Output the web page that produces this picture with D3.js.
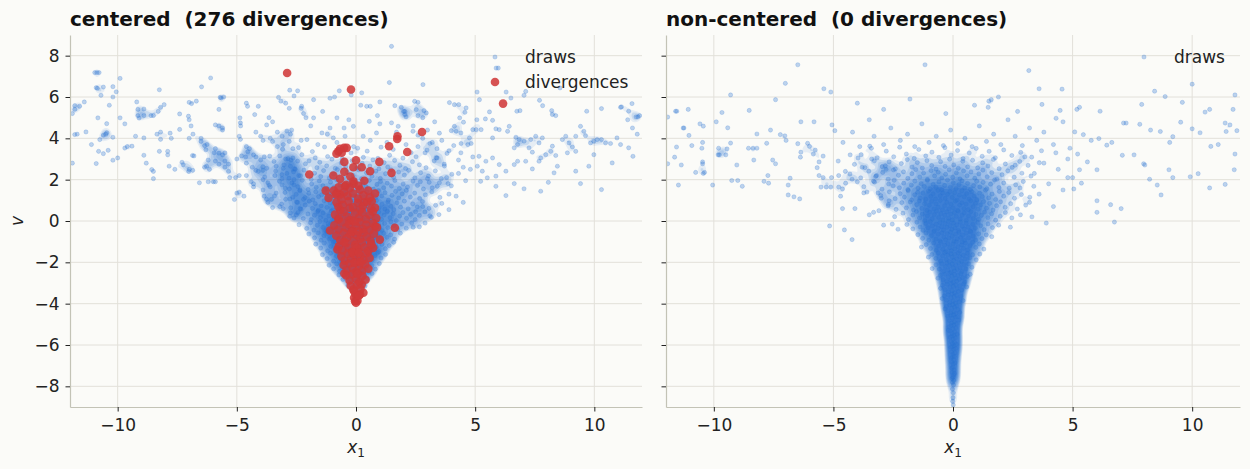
<!DOCTYPE html>
<html>
<head>
<meta charset="utf-8">
<script src="https://cdn.jsdelivr.net/npm/d3@7"></script>
<style>
  body { margin: 0; background: #fbfbf8; }
  svg text { font-family: "DejaVu Sans", sans-serif; }
</style>
</head>
<body>
<svg id="chart" width="1250" height="469"></svg>
<script>
// tick values and titles
var xTicks = [-10, -5, 0, 5, 10];
var vTicks = [-8, -6, -4, -2, 0, 2, 4, 6, 8];
var panelTitles = ["centered  (276 divergences)", "non-centered  (0 divergences)"];
var legendLabels = ["draws", "divergences"];

// centered model: draws, as (x1, v) pairs
var centeredDraws = [
  -11.9,2.8, -10.96,7.18, -10.87,7.18, -10.78,7.18, -10.9,6.45, -10.85,6.42, -10.7,6.08, -10.6,6.48, -10.2,6.5, -10.06,6.25,
  -9.9,6.9, -10.2,6.0, -10.35,5.6, -11.8,5.58, -11.9,5.2, -11.8,5.4, -11.6,5.55, -11.4,5.76, -11.8,4.18, -11.7,4.2,
  -11.33,4.31, -11.1,3.7, -10.9,2.78, -10.8,3.37, -10.75,3.94, -10.83,4.99, -10.46,4.71, -10.46,4.27, -10.5,4.2, -10.6,4.15,
  -10.2,4.05, -10.6,3.26, -10.4,3.42, -10.2,2.94, -10.0,3.05, -9.9,4.99, -9.7,4.7, -9.7,3.53, -9.6,3.6, -9.4,3.62,
  -9.25,4.1, -9.2,5.76, -9.15,5.4, -9.15,5.1, -9.1,4.98, -8.9,5.42, -8.9,5.1, -8.6,5.1, -8.5,5.1, -8.9,3.18,
  -8.8,2.8, -8.9,4.02, -8.57,2.49, -8.5,2.4, -8.5,2.05, -8.25,3.37, -8.2,5.5, -8.3,5.3, -8.25,6.35, -8.35,4.2,
  -8.2,4.3, -8.05,5.63, -8.2,3.95, -7.9,3.37, -7.9,3.2, -7.75,4.0, -7.8,4.25, -7.84,2.65, -7.4,5.18, -7.4,4.43,
  -7.3,2.84, -7.25,2.72, -7.6,2.5, -7.03,5.07, -7.0,4.9, -7.0,5.74, -6.9,5.68, -6.7,5.8, -6.92,4.6, -6.84,4.2,
  -7.0,4.0, -6.86,3.17, -6.8,3.15, -7.0,2.5, -7.02,2.4, -6.85,2.45, -6.57,1.85, -6.48,6.49, -6.5,4.0, -6.5,3.85,
  -6.35,3.65, -6.25,3.7, -6.3,3.45, -6.27,2.65, -6.15,2.5, -6.35,2.6, -6.2,2.95, -6.1,6.92, -6.2,1.9, -5.98,1.9,
  -5.75,5.4, -5.65,5.95, -5.55,6.0, -5.7,5.98, -5.9,4.65, -5.75,4.6, -5.6,4.5, -5.6,4.4, -5.95,3.3, -5.9,3.5,
  -5.75,3.28, -5.6,3.2, -5.5,3.3, -5.9,2.9, -5.75,2.75, -5.5,2.9, -5.35,2.75, -5.9,1.9, -5.5,2.6, -5.35,2.4, -5.3,2.1,
  -5.1,1.04, -5.0,1.35, -4.9,1.4, -4.7,1.2, -4.87,4.99, -4.85,4.75, -4.84,4.6, -4.6,5.7, -4.55,5.55, -4.9,4.1,
  -4.85,3.95, -4.6,3.6, -4.47,3.5, -4.54,3.35, -5.0,3.0, -4.8,3.15, -4.63,3.1, -4.6,2.8, -5.05,2.1, -4.9,2.2,
  -4.6,2.2, -4.3,1.8, -4.3,1.65, -4.25,5.15, -4.1,5.55, -4.2,4.3, -4.0,4.1, -3.9,3.9, -4.3,3.2, -4.2,3.1,
  -4.0,2.95, -3.85,3.1, -4.35,2.6, -4.2,2.45, -3.9,2.45, -3.75,2.55, -3.9,2.0, -3.7,1.85, -3.6,1.65, -3.85,1.2,
  -3.55,1.05, -3.35,1.35, -3.75,1.05, -3.5,0.65, -3.2,0.7, -3.05,0.6, -3.75,4.65, -3.5,4.8, -3.65,5.0, -3.25,5.98,
  -3.15,5.8, -2.78,6.33, -2.95,5.7, -2.8,5.45, -3.3,4.3, -3.1,4.1, -2.9,4.35, -2.75,4.2, -3.5,3.85, -3.3,3.6,
  -3.05,3.7, -2.8,3.85, -2.65,3.5, -3.2,3.15, -2.95,3.0, -2.65,3.05, -2.45,2.9, -3.35,2.65, -3.05,2.55, -2.75,2.65,
  -2.55,2.5, -3.4,2.2, -3.1,2.05, -2.9,2.3, -2.6,2.0, -2.4,2.2, -3.1,1.75, -2.8,1.55, -2.6,1.75, -2.35,1.5,
  -2.95,1.05, -2.65,1.15, -2.45,0.9, -2.2,1.05, -2.75,0.4, -2.5,0.3, -2.35,0.6, -2.6,0.15, -2.3,5.45, -2.2,5.2,
  -2.45,6.3, -2.6,6.05, -3.9,1.5, -3.7,0.9, -4.1,2.4, -4.4,1.9,
  -1.78,5.87, -1.09,5.94, -0.7,6.3, 0.24,6.2, 0.45,5.55, 0.6,5.55, 1.0,5.76, 1.63,5.58, 2.05,5.3, 2.05,5.15,
  1.49,4.75, 1.77,4.58, 0.56,4.82, 0.86,4.26, -0.46,4.1, -0.11,4.58, -1.09,4.5, -0.8,4.99, -0.95,4.02, -1.43,4.26,
  -1.78,4.99, -2.06,3.94, 2.53,5.39, 2.39,4.34, -2.28,5.55, 1.49,8.45, 2.81,6.6, -2.7,4.4, -2.3,3.9, -1.9,4.6,
  -1.6,3.7, -1.2,4.2, -0.8,3.8, -0.5,4.5, -0.1,3.6, 0.3,4.1, 0.6,3.9, 1.0,4.7, 1.3,3.8, 1.7,4.3,
  2.1,3.7, 2.4,4.6, 2.8,4.0, 3.2,3.8, -3.6,4.0, -0.3,4.9, 0.9,5.1, -1.4,5.3, 1.9,5.5, -2.1,5.0,
  0.2,5.6, 2.6,5.1, -0.9,6.0, 1.4,6.7, -0.2,6.1,
  5.88,7.4, 5.97,7.4, 6.3,6.24, 6.5,5.95, 5.08,6.24, 5.18,5.87, 7.12,6.27, 7.05,6.08, 7.7,5.84, 7.83,5.58,
  8.56,6.44, 2.46,5.79, 2.6,5.74, 3.92,5.73, 4.13,5.63, 4.31,5.63, 4.62,5.47, 4.57,5.26, 2.0,5.3, 2.1,5.04,
  2.85,5.34, 2.95,5.23, 5.6,5.28, 5.43,4.94, 6.75,5.31, 6.88,5.34, 8.21,5.34, 8.24,5.15, 8.38,5.1, 9.68,5.31,
  10.3,5.44, 11.14,5.52, 11.58,5.68, 11.44,5.31, 11.75,5.04, 11.83,5.04, 4.35,4.99, 4.51,4.78, 4.13,4.58, 4.0,4.37,
  4.2,4.34, 4.4,4.26, 5.07,4.9, 5.04,4.42, 4.9,4.42, 5.25,4.42, 4.76,4.02, 4.83,3.75, 4.69,3.7, 4.41,3.75,
  5.73,4.87, 5.87,4.46, 6.01,4.42, 5.73,4.02, 6.43,4.58, 6.36,4.34, 6.71,4.05, 6.85,3.94, 6.78,3.7, 6.64,3.54,
  7.05,3.86, 7.33,3.94, 7.26,3.54, 7.4,3.33, 7.54,4.1, 7.68,3.78, 7.82,4.02, 7.96,3.21, 8.17,3.37, 8.24,3.62,
  8.38,3.17, 8.66,3.94, 8.8,4.1, 8.94,3.78, 9.08,3.58, 9.22,4.1, 9.42,4.58, 9.56,4.34, 9.63,4.13, 9.84,3.78,
  9.98,3.86, 10.12,3.94, 10.3,3.94, 10.47,3.78, 10.68,3.75, 10.95,4.02, 11.1,3.7, 11.1,5.5, 11.4,4.9, 11.6,4.5,
  11.8,4.2, 11.9,5.1, 9.77,2.65, 9.22,2.41, 8.45,2.65, 7.75,1.44, 7.05,1.56, 6.29,1.23, 5.87,1.68, 6.64,1.81,
  8.31,2.33, 7.4,2.52, 7.75,3.05, 6.78,2.89, 6.01,2.73, 5.73,3.05, 5.45,2.89, 5.16,3.13, 5.09,2.65, 5.3,2.41,
  5.51,2.09, 5.23,1.92, 5.87,2.17, 6.29,2.41, 6.64,2.73, 7.12,2.89, 7.68,2.89, 8.87,3.3, 9.22,3.37, 9.98,3.21,
  10.75,2.81, 11.44,3.54, 11.62,3.13, 10.3,1.52, 9.42,1.81, 8.07,1.87,
  2.6,3.6, 2.9,3.3, 3.1,3.75, 3.4,3.5, 3.6,3.9, 3.9,3.4, 4.1,3.65, 4.4,3.3, 2.7,1.9, 3.0,2.05,
  3.2,1.6, 3.5,1.85, 3.8,2.1, 4.0,1.7, 4.3,2.3, 4.6,1.95, 4.8,2.5, 2.5,0.45, 2.8,0.7, 3.1,0.25,
  3.6,0.85, 3.9,0.55, 4.2,1.2, 4.5,0.9, 2.4,-0.3, 2.9,-0.1, 4.3,2.95, 4.5,2.6, 3.7,2.75, 3.4,3.05,
  4.9,3.1, 2.6,4.15, 3.0,4.4, 3.5,4.25, 2.8,5.0, 3.3,4.8,
  -3.62,3.14, -3.08,3.47, -2.86,3.02, -2.41,3.55, -2.27,3.21, -1.83,3.36, -1.71,3.05, -1.32,3.58, -1.19,3.12, -0.74,3.44,
  -0.58,3.01, -0.21,3.29, 0.07,3.52, 0.31,3.08, 0.47,3.38, 0.92,3.03, 1.05,3.57, 1.41,3.18, 1.56,3.46, 1.97,3.04,
  2.31,3.31, 2.52,3.11, 2.98,3.43, 3.37,3.06, 3.82,3.27,
  -3.91,2.62, -3.44,2.88, -3.02,2.71, -2.73,2.95, -2.58,2.53, -2.12,2.77, -1.97,2.91, -1.64,2.58, -1.52,2.84, -1.23,2.67,
  -1.01,2.99, -0.87,2.55, -0.62,2.81, -0.43,2.63, -0.16,2.92, 0.04,2.57, 0.26,2.79, 0.58,2.66, 0.71,2.96, 0.96,2.52,
  1.18,2.83, 1.33,2.61, 1.62,2.93, 1.84,2.69, 2.08,2.54, 2.37,2.87, 2.66,2.72, 2.94,2.58, 3.28,2.91, 3.71,2.66,
  -3.83,2.13, -3.37,2.42, -3.11,2.24, -2.81,2.07, -2.62,2.38, -2.33,2.19, -2.18,2.46, -1.88,2.02, -1.74,2.31, -1.48,2.15,
  -1.36,2.44, -1.12,2.08, -0.94,2.27, -0.78,2.49, -0.51,2.11, -0.37,2.36, -0.12,2.21, 0.11,2.47, 0.23,2.04, 0.44,2.33,
  0.67,2.16, 0.83,2.41, 1.02,2.06, 1.24,2.29, 1.47,2.48, 1.58,2.12, 1.79,2.37, 2.03,2.22, 2.21,2.45, 2.47,2.09,
  2.71,2.34, 3.04,2.18, 3.33,2.43, 3.58,2.05, 4.02,2.26,
  -3.64,1.73, -3.21,1.92, -2.97,1.58, -2.69,1.84, -2.44,1.66, -2.26,1.97, -2.01,1.52, -1.86,1.79, -1.67,1.63, -1.54,1.94,
  -1.39,1.71, -1.21,1.56, -1.07,1.88, -0.93,1.62, -0.81,1.99, -0.66,1.74, -0.49,1.53, -0.33,1.86, -0.19,1.68, -0.03,1.95,
  0.14,1.59, 0.29,1.81, 0.42,1.66, 0.56,1.97, 0.73,1.54, 0.88,1.77, 1.03,1.91, 1.16,1.61, 1.31,1.83, 1.49,1.69,
  1.63,1.96, 1.82,1.57, 1.98,1.79, 2.16,1.64, 2.39,1.93, 2.58,1.72, 2.83,1.55, 3.07,1.87, 3.41,1.68, 3.86,1.81,
  -3.42,1.21, -2.98,1.38, -2.77,1.07, -2.51,1.29, -2.36,1.46, -2.14,1.13, -1.98,1.34, -1.81,1.02, -1.69,1.41, -1.57,1.18,
  -1.44,1.27, -1.29,1.49, -1.17,1.06, -1.04,1.32, -0.91,1.19, -0.79,1.44, -0.68,1.03, -0.54,1.26, -0.42,1.39, -0.31,1.12,
  -0.18,1.47, -0.07,1.23, 0.06,1.08, 0.18,1.36, 0.32,1.17, 0.45,1.42, 0.57,1.04, 0.69,1.28, 0.82,1.13, 0.94,1.46,
  1.08,1.21, 1.22,1.37, 1.36,1.01, 1.51,1.24, 1.66,1.43, 1.79,1.11, 1.94,1.31, 2.11,1.48, 2.28,1.16, 2.46,1.35,
  2.67,1.09, 2.91,1.27, 3.18,1.41, 3.52,1.14, 3.9,1.3,
  -3.12,0.82, -2.74,0.64, -2.49,0.91, -2.31,0.57, -2.13,0.78, -1.96,0.96, -1.83,0.61, -1.71,0.84, -1.58,0.52, -1.46,0.73,
  -1.34,0.98, -1.22,0.66, -1.09,0.87, -0.98,0.54, -0.86,0.79, -0.74,0.93, -0.63,0.62, -0.52,0.85, -0.41,0.51, -0.29,0.71,
  -0.17,0.97, -0.06,0.63, 0.05,0.82, 0.16,0.56, 0.27,0.94, 0.38,0.69, 0.51,0.86, 0.62,0.53, 0.74,0.77, 0.86,0.99,
  0.97,0.64, 1.09,0.81, 1.21,0.58, 1.34,0.92, 1.47,0.71, 1.59,0.55, 1.72,0.88, 1.87,0.67, 2.03,0.96, 2.19,0.59,
  2.38,0.83, 2.57,0.68, 2.79,0.94, 3.06,0.61, 3.34,0.76,
  -2.78,0.23, -2.44,0.41, -2.21,0.12, -2.02,0.34, -1.88,0.07, -1.74,0.28, -1.61,0.46, -1.49,0.17, -1.38,0.39, -1.26,0.03,
  -1.14,0.24, -1.03,0.48, -0.92,0.14, -0.81,0.36, -0.71,0.09, -0.6,0.27, -0.49,0.44, -0.38,0.18, -0.27,0.33, -0.16,0.06,
  -0.05,0.42, 0.06,0.21, 0.17,0.37, 0.28,0.11, 0.39,0.46, 0.5,0.26, 0.61,0.04, 0.72,0.31, 0.84,0.19, 0.95,0.43,
  1.07,0.08, 1.18,0.29, 1.31,0.47, 1.43,0.16, 1.56,0.35, 1.69,0.02, 1.83,0.24, 1.97,0.41, 2.12,0.13, 2.29,0.32,
  2.48,0.07, 2.66,0.27, 2.89,0.44, 3.16,0.18, 3.48,0.31,
  -2.39,-0.18, -2.07,-0.36, -1.91,-0.08, -1.76,-0.44, -1.63,-0.21, -1.51,-0.03, -1.39,-0.31, -1.28,-0.47, -1.17,-0.13, -1.06,-0.39,
  -0.96,-0.06, -0.86,-0.27, -0.76,-0.45, -0.66,-0.16, -0.56,-0.34, -0.46,-0.02, -0.36,-0.23, -0.26,-0.41, -0.16,-0.11, -0.06,-0.29,
  0.04,-0.48, 0.14,-0.14, 0.24,-0.33, 0.34,-0.05, 0.44,-0.24, 0.54,-0.43, 0.64,-0.17, 0.74,-0.37, 0.85,-0.07, 0.96,-0.26,
  1.08,-0.46, 1.2,-0.12, 1.33,-0.32, 1.46,-0.04, 1.6,-0.22, 1.75,-0.41, 1.92,-0.15, 2.11,-0.35, 2.34,-0.09, 2.66,-0.28,
  -1.98,-0.63, -1.74,-0.81, -1.59,-0.57, -1.46,-0.93, -1.34,-0.71, -1.22,-0.52, -1.11,-0.86, -1.01,-0.66, -0.91,-0.97, -0.81,-0.58,
  -0.72,-0.77, -0.63,-0.91, -0.54,-0.61, -0.45,-0.83, -0.36,-0.54, -0.27,-0.72, -0.18,-0.95, -0.09,-0.64, 0.0,-0.81, 0.09,-0.56,
  0.18,-0.89, 0.27,-0.68, 0.36,-0.53, 0.45,-0.76, 0.54,-0.98, 0.63,-0.62, 0.73,-0.84, 0.83,-0.55, 0.94,-0.73, 1.05,-0.92,
  1.17,-0.6, 1.3,-0.79, 1.45,-0.67, 1.62,-0.88, 1.86,-0.59,
  -1.69,-1.12, -1.48,-1.31, -1.33,-1.07, -1.19,-1.44, -1.06,-1.23, -0.95,-1.02, -0.84,-1.36, -0.74,-1.17, -0.64,-1.49, -0.55,-1.08,
  -0.46,-1.27, -0.37,-1.41, -0.28,-1.14, -0.19,-1.33, -0.1,-1.04, -0.01,-1.22, 0.08,-1.46, 0.17,-1.11, 0.26,-1.29, 0.35,-1.05,
  0.44,-1.38, 0.53,-1.16, 0.63,-1.43, 0.73,-1.09, 0.84,-1.26, 0.96,-1.48, 1.09,-1.13, 1.23,-1.34, 1.39,-1.19, 1.58,-1.03,
  -1.41,-1.63, -1.21,-1.82, -1.07,-1.56, -0.94,-1.94, -0.82,-1.71, -0.71,-1.52, -0.61,-1.87, -0.51,-1.66, -0.42,-1.98, -0.33,-1.59,
  -0.24,-1.77, -0.15,-1.91, -0.06,-1.61, 0.03,-1.84, 0.12,-1.54, 0.21,-1.73, 0.3,-1.96, 0.39,-1.64, 0.48,-1.81, 0.58,-1.57,
  0.68,-1.89, 0.79,-1.68, 0.91,-1.53, 1.05,-1.79, 1.24,-1.62,
  -1.13,-2.14, -0.94,-2.31, -0.81,-2.07, -0.69,-2.43, -0.58,-2.22, -0.48,-2.04, -0.39,-2.37, -0.3,-2.18, -0.21,-2.46, -0.12,-2.09,
  -0.03,-2.28, 0.06,-2.41, 0.15,-2.12, 0.24,-2.34, 0.33,-2.01, 0.43,-2.24, 0.54,-2.47, 0.66,-2.16, 0.81,-2.33, 0.98,-2.06,
  -0.72,-2.61, -0.55,-2.83, -0.42,-2.58, -0.31,-2.94, -0.2,-2.71, -0.09,-2.56, 0.02,-2.88, 0.13,-2.67, 0.24,-2.97, 0.36,-2.62,
  0.49,-2.79, 0.67,-2.54,
  -0.34,-3.12, -0.18,-3.33, -0.05,-3.07, 0.09,-3.26, 0.22,-3.44, 0.38,-3.15
];

// centered model: divergent transitions, (x1, v) pairs
var centeredDivergences = [
  -2.89,7.16, -0.21,6.36, 6.17,5.68, -1.96,2.25, 1.39,3.62, 1.74,4.1, 1.73,3.97, 2.15,3.34, 2.77,4.31, 1.49,2.33,
  0.98,2.86, 1.63,-0.33, -0.74,3.37, -0.6,3.3, -0.39,3.54, -0.82,3.26, -0.5,3.54, -0.67,3.49, -0.49,2.86, 0.0,2.94,
  -0.11,2.6, 0.24,2.6, 0.59,2.41, -0.49,2.38, -0.95,2.2, -0.67,2.04, -0.11,1.92, -0.1,1.8, -0.46,1.68, -0.26,1.6,
  -1.27,1.47, -0.93,1.47, -0.82,1.33, -0.67,1.29, -0.5,1.39, 0.17,1.52, 0.51,1.47, 0.8,1.33, 0.35,0.91, 0.66,0.96,
  0.8,0.64, -0.74,0.69, -0.27,0.64, 1.0,-0.9, -1.09,-0.46, -0.78,-1.38, -0.49,-2.54, 0.72,-1.3, 0.8,-0.25, -0.74,0.07,
  -0.04,-3.88, 0.03,-3.63, 0.17,-3.55, -0.11,-3.31, 0.24,-3.07,
  -0.82,0.91, -0.55,0.78, -0.31,0.95, -0.12,0.66, 0.08,0.88, 0.29,0.71, 0.47,0.93, 0.63,0.58, -0.66,0.52, 0.18,0.55,
  -0.88,0.31, -0.71,0.12, -0.52,0.44, -0.37,0.22, -0.19,0.05, -0.04,0.38, 0.13,0.17, 0.27,0.41, 0.42,0.09, 0.58,0.29,
  0.71,0.46, 0.85,0.14, -0.27,0.02,
  -0.91,-0.21, -0.74,-0.42, -0.58,-0.07, -0.43,-0.33, -0.29,-0.15, -0.14,-0.46, 0.0,-0.24, 0.15,-0.06, 0.29,-0.38, 0.44,-0.18,
  0.57,-0.44, 0.72,-0.11, 0.88,-0.31, -0.06,-0.02,
  -0.83,-0.71, -0.66,-0.93, -0.51,-0.58, -0.38,-0.82, -0.24,-0.64, -0.1,-0.97, 0.04,-0.69, 0.18,-0.86, 0.32,-0.55, 0.46,-0.77,
  0.61,-0.96, 0.75,-0.62, -0.17,-0.53, 0.09,-0.51,
  -0.72,-1.22, -0.56,-1.43, -0.42,-1.08, -0.29,-1.31, -0.16,-1.49, -0.03,-1.15, 0.11,-1.38, 0.24,-1.04, 0.37,-1.27, 0.51,-1.46,
  0.64,-1.13, -0.49,-1.02, 0.02,-1.29,
  -0.61,-1.71, -0.47,-1.92, -0.34,-1.58, -0.21,-1.83, -0.08,-1.64, 0.05,-1.97, 0.18,-1.69, 0.31,-1.88, 0.44,-1.56, 0.57,-1.79,
  -0.13,-1.52, 0.12,-1.55,
  -0.52,-2.13, -0.39,-2.38, -0.26,-2.06, -0.13,-2.29, 0.0,-2.47, 0.13,-2.18, 0.26,-2.41, 0.39,-2.09, 0.52,-2.31, -0.06,-2.02, 0.2,-2.0,
  -0.41,-2.64, -0.27,-2.88, -0.14,-2.57, 0.0,-2.79, 0.14,-2.96, 0.27,-2.66, 0.4,-2.84, 0.07,-2.55,
  -0.22,-3.13, -0.09,-3.38, 0.05,-3.09, 0.19,-3.29, 0.31,-3.47, -0.02,-3.55,
  -0.08,-3.71, 0.06,-3.86, 0.0,-3.95, 0.12,-3.62,
  -1.15,1.12, -0.84,1.28, -0.61,1.06, -0.35,1.21, -0.12,1.33, 0.09,1.09, 0.31,1.24, 0.58,1.14, -0.42,1.75, -0.73,1.63,
  0.1,1.7, -0.24,2.15, 0.35,1.95
];

// non-centered model: draws, (x1, v) pairs
var nonCenteredDraws = [
  -11.93,5.03, -11.6,5.31, -11.55,5.31, -11.28,4.5, -11.25,4.5, -11.07,5.4, -11.04,4.14, -11.56,3.58, -11.64,3.09, -11.93,2.77,
  -11.48,1.74, -11.36,2.71, -10.92,3.65, -10.47,3.8, -10.5,3.52, -10.47,2.86, -10.47,2.77, -10.58,4.7, -10.44,4.59, -10.76,2.35,
  -10.44,2.3, -10.39,2.35, -10.05,1.74, -9.9,4.8, -9.66,5.25, -9.3,6.1, -9.82,3.2, -9.8,3.52, -9.77,3.2, -9.5,3.2,
  -9.45,3.49, -9.42,4.51, -9.3,3.77, -9.25,1.96, -9.0,1.96, -9.04,2.71, -8.81,1.68, -8.52,5.35, -8.55,3.52, -8.36,3.52,
  -8.2,3.52, -8.33,2.95, -8.2,4.21, -7.79,3.76, -7.63,4.4, -7.9,1.92, -7.71,1.83, -7.74,2.2, -7.54,2.95, -7.42,2.77,
  -7.42,5.87, -7.01,6.66, -7.22,4.18, -7.03,4.12, -6.98,3.9, -6.81,2.07, -6.89,1.74, -6.65,1.17, -6.89,1.26, -6.41,1.07,
  -6.49,7.56, -6.36,4.8, -6.49,3.74, -6.36,3.33, -6.38,3.09, -6.08,3.76, -6.0,3.61, -5.81,4.8, -5.76,3.43, -5.84,3.24,
  -5.6,2.86, -5.68,2.58, -5.43,3.14, -5.6,2.2, -5.43,2.1, -5.52,1.64, -5.3,1.64, -5.11,6.24, -5.06,4.65, -4.94,4.37,
  -5.08,2.1, -5.11,1.64, -4.78,2.2, -4.78,1.64, -4.49,1.83, -4.62,1.55, -5.16,-0.24, -4.22,-0.9, -4.54,-0.43,
  -3.97,3.05, -3.48,3.62, -4.22,2.02, -3.73,1.36, -3.32,1.92, -2.83,2.67, -3.13,1.36, -2.67,0.98, -3.32,0.42, -2.54,-0.15, -4.62,0.6,
  3.17,7.28, 4.56,6.38, 1.6,5.87, 1.47,5.5, 3.72,5.64, 5.18,5.4, 5.29,5.5, 4.48,5.35, 4.31,4.97, 6.15,5.31,
  7.24,4.74, 7.89,5.64, 8.43,6.28, 8.87,6.02, 9.59,5.74, 10.0,6.62, 10.54,5.27, 10.73,5.4, 11.71,5.4, 11.79,6.1,
  11.38,4.74, 11.58,4.65, 11.87,4.37, 7.13,4.74, 7.81,4.68, 8.26,4.4, 8.67,4.33, 9.06,3.8, 9.19,4.08, 9.52,4.78,
  10.0,4.46, 10.33,4.27, 10.78,3.61, 11.09,3.7, 11.42,4.33, 11.79,3.24, 6.1,3.99, 6.43,3.67, 6.64,3.8, 7.08,3.18,
  7.57,3.2, 7.97,2.77, 8.02,2.71, 8.22,2.02, 8.54,1.74, 9.03,2.48, 9.19,2.1, 9.92,2.14, 10.25,2.29, 10.73,1.6,
  11.38,1.77, 11.76,2.48, 5.09,4.31, 5.45,4.18, 5.78,3.9, 4.89,3.52, 5.21,3.24, 5.62,2.86, 6.02,2.48, 5.29,2.48,
  4.8,2.1, 5.05,1.55, 5.37,1.83, 6.02,0.98, 6.59,0.79, 6.75,-0.05, 7.03,0.6, 8.7,1.26, 6.02,0.42,
  -4.6,3.8, -4.2,4.3, -3.9,3.6, -3.5,4.9, -3.3,4.1, -2.9,3.7, -2.6,4.5, -2.2,3.9, -1.9,4.2, -1.6,3.6,
  -1.3,4.7, -1.0,3.8, -0.7,4.1, -0.4,3.65, -0.1,4.4, 0.2,3.75, 0.5,4.0, 0.8,3.6, 1.1,4.6, 1.4,3.85,
  1.7,4.2, 2.0,3.7, 2.3,4.9, 2.6,4.1, 2.9,3.65, 3.2,4.5, 3.5,3.9, 3.8,4.3, 4.2,3.7, 4.6,4.8,
  -2.9,5.4, -1.8,5.9, -0.3,5.2, 0.9,5.6, 1.9,6.0, 2.7,5.3, -4.0,5.7, -5.4,6.4, 3.6,6.4, -1.17,7.56, 1.5,5.8,
  -4.8,2.9, -4.5,2.4, -4.3,3.2, -4.0,1.9, -3.8,2.6, -3.6,1.4, -3.4,3.0, -3.2,2.2, -3.0,1.1, -2.8,2.5,
  -2.7,0.8, -2.5,1.7, -4.7,1.2, -4.1,0.6, -3.5,0.3, -3.1,0.5, -2.9,-0.2, -2.3,-0.4,
  2.6,2.7, 2.8,1.6, 3.0,3.1, 3.2,0.9, 3.4,2.3, 3.6,1.3, 3.8,2.8, 4.0,1.8, 4.2,0.7, 4.4,2.5,
  4.6,1.5, 4.8,3.0, 5.0,2.1, 3.3,0.2, 3.9,-0.1, 2.4,-0.3, 4.3,3.3, 3.7,3.4,
  -3.84,3.21, -3.41,3.52, -3.17,3.06, -2.79,3.38, -2.48,3.11, -2.23,3.57, -1.95,3.24, -1.62,3.03, -1.43,3.46, -1.14,3.15,
  -0.88,3.33, -0.59,3.08, -0.34,3.55, -0.08,3.19, 0.19,3.41, 0.42,3.02, 0.68,3.29, 0.97,3.51, 1.22,3.13, 1.51,3.37,
  1.77,3.06, 2.12,3.44, 2.46,3.17, 2.83,3.32, 3.29,3.09,
  -4.12,2.74, -3.68,2.58, -3.29,2.91, -2.96,2.63, -2.67,2.86, -2.41,2.52, -2.16,2.78, -1.91,2.97, -1.71,2.61, -1.49,2.83,
  -1.28,2.56, -1.09,2.92, -0.89,2.68, -0.71,2.51, -0.52,2.87, -0.33,2.64, -0.14,2.99, 0.03,2.71, 0.22,2.55, 0.41,2.89,
  0.61,2.62, 0.82,2.94, 1.03,2.57, 1.24,2.81, 1.46,2.66, 1.69,2.98, 1.93,2.53, 2.19,2.76, 2.48,2.59, 2.79,2.88,
  3.14,2.69, 3.61,2.82,
  -4.31,2.27, -3.86,2.09, -3.52,2.41, -3.23,2.16, -2.94,2.35, -2.71,2.03, -2.49,2.47, -2.28,2.21, -2.07,2.38, -1.89,2.06,
  -1.72,2.29, -1.56,2.49, -1.39,2.13, -1.23,2.32, -1.07,2.01, -0.92,2.44, -0.77,2.18, -0.62,2.36, -0.47,2.08, -0.31,2.26,
  -0.16,2.48, -0.01,2.11, 0.14,2.33, 0.29,2.04, 0.44,2.42, 0.59,2.19, 0.75,2.37, 0.91,2.07, 1.08,2.28, 1.25,2.46,
  1.43,2.14, 1.62,2.34, 1.83,2.02, 2.05,2.24, 2.29,2.43, 2.56,2.12, 2.88,2.31, 3.26,2.17,
  -3.73,1.66, -3.28,1.88, -2.97,1.54, -2.69,1.79, -2.46,1.97, -2.24,1.61, -2.06,1.83, -1.89,1.52, -1.74,1.74, -1.6,1.93,
  -1.46,1.58, -1.33,1.81, -1.2,1.67, -1.07,1.96, -0.95,1.55, -0.83,1.77, -0.71,1.63, -0.59,1.89, -0.47,1.51, -0.35,1.72,
  -0.23,1.98, -0.11,1.64, 0.01,1.85, 0.13,1.57, 0.25,1.76, 0.37,1.94, 0.49,1.6, 0.61,1.82, 0.73,1.53, 0.86,1.71,
  0.99,1.92, 1.12,1.65, 1.26,1.87, 1.41,1.56, 1.57,1.78, 1.74,1.99, 1.92,1.62, 2.12,1.84, 2.35,1.59, 2.62,1.75,
  2.94,1.91, 3.38,1.68,
  -3.02,1.23, -2.66,1.41, -2.42,1.08, -2.21,1.32, -2.03,1.16, -1.87,1.47, -1.73,1.02, -1.6,1.27, -1.48,1.39, -1.36,1.11,
  -1.25,1.34, -1.14,1.05, -1.03,1.44, -0.93,1.19, -0.83,1.31, -0.73,1.07, -0.63,1.48, -0.53,1.22, -0.43,1.36, -0.33,1.09,
  -0.23,1.29, -0.13,1.42, -0.03,1.14, 0.07,1.37, 0.17,1.01, 0.27,1.25, 0.37,1.46, 0.47,1.17, 0.57,1.33, 0.67,1.06,
  0.78,1.41, 0.89,1.21, 1.0,1.03, 1.11,1.35, 1.23,1.18, 1.36,1.49, 1.49,1.12, 1.63,1.3, 1.78,1.04, 1.94,1.43,
  2.12,1.2, 2.33,1.38, 2.57,1.1, 2.86,1.28, 3.21,1.15,
  -2.71,0.73, -2.38,0.56, -2.14,0.89, -1.95,0.64, -1.79,0.92, -1.65,0.53, -1.52,0.79, -1.41,0.97, -1.3,0.61, -1.19,0.84,
  -1.09,0.51, -0.99,0.76, -0.89,0.95, -0.8,0.58, -0.71,0.83, -0.62,0.67, -0.53,0.99, -0.44,0.54, -0.35,0.74, -0.26,0.91,
  -0.17,0.59, -0.08,0.81, 0.01,0.63, 0.1,0.96, 0.19,0.52, 0.28,0.77, 0.37,0.88, 0.46,0.6, 0.55,0.82, 0.64,0.55,
  0.74,0.98, 0.84,0.69, 0.94,0.86, 1.05,0.57, 1.16,0.78, 1.28,0.94, 1.4,0.62, 1.53,0.85, 1.67,0.53, 1.82,0.74,
  1.99,0.93, 2.18,0.66, 2.41,0.84, 2.69,0.58, 3.04,0.77,
  -2.44,0.21, -2.09,0.38, -1.86,0.07, -1.68,0.29, -1.53,0.46, -1.4,0.14, -1.28,0.33, -1.17,0.02, -1.07,0.25, -0.97,0.43,
  -0.87,0.11, -0.78,0.31, -0.69,0.48, -0.6,0.17, -0.51,0.36, -0.42,0.05, -0.34,0.27, -0.26,0.44, -0.18,0.13, -0.1,0.34,
  -0.02,0.06, 0.06,0.41, 0.14,0.22, 0.22,0.47, 0.3,0.09, 0.38,0.29, 0.47,0.39, 0.56,0.03, 0.65,0.24, 0.75,0.45,
  0.85,0.12, 0.96,0.32, 1.07,0.08, 1.19,0.27, 1.32,0.43, 1.46,0.16, 1.61,0.35, 1.78,0.04, 1.97,0.23, 2.19,0.41,
  2.46,0.15, 2.82,0.3,
  -1.93,-0.17, -1.68,-0.38, -1.51,-0.06, -1.37,-0.29, -1.25,-0.45, -1.14,-0.12, -1.04,-0.33, -0.95,-0.03, -0.86,-0.24, -0.78,-0.47,
  -0.7,-0.15, -0.62,-0.36, -0.54,-0.08, -0.47,-0.27, -0.4,-0.44, -0.33,-0.13, -0.26,-0.31, -0.19,-0.02, -0.12,-0.22, -0.05,-0.41,
  0.02,-0.1, 0.09,-0.34, 0.16,-0.18, 0.23,-0.46, 0.31,-0.05, 0.39,-0.26, 0.47,-0.39, 0.55,-0.11, 0.64,-0.3, 0.73,-0.48,
  0.83,-0.16, 0.93,-0.35, 1.04,-0.07, 1.16,-0.23, 1.3,-0.42, 1.46,-0.14, 1.65,-0.32, 1.91,-0.2,
  -1.47,-0.66, -1.27,-0.84, -1.13,-0.58, -1.01,-0.93, -0.9,-0.71, -0.8,-0.52, -0.71,-0.87, -0.62,-0.64, -0.54,-0.96, -0.46,-0.57,
  -0.38,-0.78, -0.31,-0.91, -0.24,-0.61, -0.17,-0.83, -0.1,-0.54, -0.03,-0.74, 0.04,-0.98, 0.11,-0.63, 0.18,-0.86, 0.25,-0.55,
  0.32,-0.79, 0.4,-0.69, 0.48,-0.94, 0.56,-0.59, 0.65,-0.81, 0.74,-0.53, 0.84,-0.73, 0.95,-0.92, 1.07,-0.62, 1.21,-0.85,
  1.39,-0.67, 1.62,-0.76,
  -1.12,-1.14, -0.94,-1.33, -0.81,-1.06, -0.7,-1.42, -0.6,-1.21, -0.51,-1.03, -0.43,-1.37, -0.35,-1.17, -0.28,-1.48, -0.21,-1.09,
  -0.14,-1.29, -0.07,-1.44, 0.0,-1.12, 0.07,-1.35, 0.14,-1.01, 0.21,-1.24, 0.28,-1.46, 0.36,-1.15, 0.44,-1.32, 0.52,-1.07,
  0.61,-1.4, 0.71,-1.19, 0.82,-1.03, 0.95,-1.28, 1.1,-1.11, 1.29,-1.36, -1.32,-1.26, 0.38,-1.01,
  -0.88,-1.62, -0.72,-1.81, -0.61,-1.55, -0.51,-1.93, -0.43,-1.69, -0.35,-1.52, -0.28,-1.86, -0.21,-1.64, -0.15,-1.97, -0.09,-1.58,
  -0.03,-1.76, 0.03,-1.91, 0.09,-1.61, 0.15,-1.83, 0.21,-1.54, 0.28,-1.72, 0.35,-1.95, 0.43,-1.66, 0.51,-1.84, 0.6,-1.57,
  0.7,-1.78, 0.82,-1.63, 0.97,-1.88, -1.03,-1.75, 1.12,-1.6,
  -0.71,-2.12, -0.57,-2.33, -0.47,-2.06, -0.39,-2.44, -0.32,-2.21, -0.26,-2.03, -0.2,-2.37, -0.14,-2.17, -0.08,-2.48, -0.03,-2.09,
  0.02,-2.29, 0.07,-2.41, 0.12,-2.14, 0.18,-2.35, 0.24,-2.02, 0.3,-2.26, 0.37,-2.45, 0.45,-2.11, 0.54,-2.32, 0.65,-2.07,
  0.79,-2.24, -0.87,-2.3,
  -0.52,-2.63, -0.41,-2.84, -0.33,-2.57, -0.26,-2.93, -0.2,-2.71, -0.14,-2.52, -0.09,-2.87, -0.04,-2.66, 0.01,-2.97, 0.06,-2.59,
  0.11,-2.78, 0.16,-2.91, 0.21,-2.61, 0.27,-2.82, 0.33,-2.55, 0.4,-2.74, 0.49,-2.96, 0.6,-2.68, -0.63,-2.77, 0.72,-2.58,
  -0.44,-3.11, -0.33,-3.32, -0.25,-3.06, -0.19,-3.43, -0.13,-3.21, -0.08,-3.02, -0.03,-3.37, 0.02,-3.16, 0.07,-3.48, 0.12,-3.09,
  0.17,-3.28, 0.23,-3.41, 0.29,-3.13, 0.36,-3.34, 0.45,-3.04, -0.52,-3.26, 0.57,-3.19,
  -0.36,-3.62, -0.27,-3.83, -0.2,-3.56, -0.14,-3.94, -0.09,-3.71, -0.04,-3.53, 0.01,-3.88, 0.05,-3.66, 0.1,-3.97, 0.15,-3.59,
  0.2,-3.78, 0.26,-3.91, 0.33,-3.64, -0.45,-3.75, 0.42,-3.85,
  -0.27,-4.13, -0.2,-4.34, -0.14,-4.07, -0.09,-4.45, -0.05,-4.22, -0.01,-4.04, 0.03,-4.39, 0.07,-4.17, 0.11,-4.48, 0.16,-4.11,
  0.21,-4.29, 0.28,-4.42, -0.33,-4.25,
  -0.21,-4.61, -0.15,-4.82, -0.1,-4.57, -0.06,-4.93, -0.02,-4.7, 0.02,-4.54, 0.06,-4.88, 0.1,-4.66, 0.14,-4.97, 0.19,-4.63, 0.24,-4.79,
  -0.16,-5.12, -0.11,-5.33, -0.07,-5.06, -0.03,-5.44, 0.0,-5.21, 0.04,-5.03, 0.08,-5.37, 0.12,-5.17, 0.17,-5.48, -0.19,-5.29,
  -0.12,-5.62, -0.08,-5.84, -0.05,-5.57, -0.02,-5.93, 0.01,-5.71, 0.04,-5.53, 0.07,-5.88, 0.1,-5.66, 0.14,-5.97,
  -0.09,-6.11, -0.06,-6.33, -0.03,-6.07, 0.0,-6.44, 0.03,-6.21, 0.05,-6.04, 0.08,-6.38, 0.11,-6.17,
  -0.07,-6.63, -0.04,-6.84, -0.02,-6.58, 0.01,-6.92, 0.03,-6.71, 0.05,-6.55, 0.08,-6.87,
  -0.05,-7.12, -0.03,-7.33, 0.0,-7.07, 0.02,-7.45, 0.04,-7.21, 0.06,-7.38,
  -0.04,-7.62, -0.02,-7.81, 0.0,-7.56, 0.02,-7.93, 0.03,-7.71,
  -0.02,-8.13, 0.01,-8.31, 0.0,-8.55, -0.01,-8.72, 0.01,-8.9
];

function toPoints(flat) {
  var out = [];
  for (var i = 0; i + 1 < flat.length; i += 2) out.push({x: flat[i], v: flat[i + 1]});
  return out;
}

var blue = "#2a74d2", red = "#d03a3a", gridColor = "#e2e0da", spineColor = "#c3c3b6", inkColor = "#222";

var svg = d3.select("#chart");
var plotTop = 35, plotBottom = 407;

var panels = [
  {left: 70, right: 642, title: panelTitles[0], draws: toPoints(centeredDraws),
   divs: toPoints(centeredDivergences), showYLabels: true, legend: legendLabels, legendX: 495},
  {left: 666, right: 1240, title: panelTitles[1], draws: toPoints(nonCenteredDraws),
   divs: [], showYLabels: false, legend: legendLabels.slice(0, 1), legendX: 1144}
];

var y = d3.scaleLinear().domain([-9, 9]).range([plotBottom, plotTop]);

// overlap shading: density in points per square pixel -> combined opacity
var shadeLevels = d3.range(0.014, 0.045, 0.0025);
var shadeOpacity = function(dens) {
  var t = Math.max(0, Math.min(1, (dens - 0.013) / 0.024));
  return 0.9 * Math.pow(t, 0.7);
};

panels.forEach(function(p, i) {
  var x = d3.scaleLinear().domain([-12, 12]).range([p.left, p.right]);
  var g = svg.append("g");

  var clipId = "clip" + i;
  svg.append("clipPath").attr("id", clipId).append("rect")
    .attr("x", p.left).attr("y", plotTop).attr("width", p.right - p.left).attr("height", plotBottom - plotTop);

  // grid
  g.selectAll(".gx").data(xTicks).enter().append("line")
    .attr("x1", function(d) { return x(d); }).attr("x2", function(d) { return x(d); })
    .attr("y1", plotTop).attr("y2", plotBottom)
    .attr("stroke", gridColor).attr("stroke-width", 1);
  g.selectAll(".gy").data(vTicks).enter().append("line")
    .attr("x1", p.left).attr("x2", p.right)
    .attr("y1", function(d) { return y(d); }).attr("y2", function(d) { return y(d); })
    .attr("stroke", gridColor).attr("stroke-width", 1);

  var plot = g.append("g").attr("clip-path", "url(#" + clipId + ")");

  // where many translucent draws pile up they turn solid blue
  var density = d3.contourDensity()
    .x(function(d) { return x(d.x); })
    .y(function(d) { return y(d.v); })
    .size([1250, 469])
    .cellSize(2)
    .bandwidth(4.5);
  var contours = density.contours(p.draws);
  var prev = 0;
  shadeLevels.forEach(function(level) {
    var target = shadeOpacity(level);
    if (target <= prev) return;
    var a = 1 - (1 - target) / (1 - prev);
    prev = target;
    plot.append("path")
      .attr("d", d3.geoPath()(contours(level)))
      .attr("fill", blue)
      .attr("fill-opacity", a);
  });

  plot.selectAll(".draw").data(p.draws).enter().append("circle")
    .attr("cx", function(d) { return x(d.x); })
    .attr("cy", function(d) { return y(d.v); })
    .attr("r", 2.1)
    .attr("fill", blue).attr("fill-opacity", 0.3)
    .attr("stroke", blue).attr("stroke-opacity", 0.3).attr("stroke-width", 0.7);

  plot.selectAll(".div").data(p.divs).enter().append("circle")
    .attr("cx", function(d) { return x(d.x); })
    .attr("cy", function(d) { return y(d.v); })
    .attr("r", 4.3)
    .attr("fill", red).attr("fill-opacity", 0.88);

  // axes
  var xAxis = g.append("g").attr("transform", "translate(0," + plotBottom + ")")
    .call(d3.axisBottom(x).tickValues(xTicks).tickSize(4.5).tickSizeOuter(0).tickPadding(7));
  var yAxis = g.append("g").attr("transform", "translate(" + p.left + ",0)")
    .call(d3.axisLeft(y).tickValues(vTicks).tickSize(4.5).tickSizeOuter(0).tickPadding(6)
      .tickFormat(p.showYLabels ? d3.format("d") : function() { return ""; }));
  [xAxis, yAxis].forEach(function(ax) {
    ax.select(".domain").attr("stroke", spineColor).attr("stroke-width", 1.2);
    ax.selectAll(".tick line").attr("stroke", inkColor).attr("stroke-width", 1);
    ax.selectAll(".tick text").attr("fill", inkColor)
      .style("font-family", "DejaVu Sans").style("font-size", "17px");
  });

  // title
  g.append("text")
    .attr("x", p.left).attr("y", 26)
    .style("font-size", "20px").style("font-weight", "bold").style("white-space", "pre")
    .attr("fill", "#111")
    .text(p.title);

  // x label
  var xl = g.append("text")
    .attr("x", (p.left + p.right) / 2).attr("y", 453)
    .attr("text-anchor", "middle").attr("fill", inkColor)
    .style("font-size", "17px");
  xl.append("tspan").style("font-style", "italic").text("x");
  xl.append("tspan").attr("dy", 4).style("font-size", "12px").text("1");

  // legend
  p.legend.forEach(function(label, j) {
    var ly = 57 + j * 25;
    var isDiv = label === "divergences";
    g.append("circle")
      .attr("cx", p.legendX).attr("cy", ly)
      .attr("r", isDiv ? 4.3 : 2.1)
      .attr("fill", isDiv ? red : blue)
      .attr("fill-opacity", isDiv ? 0.88 : 0.3)
      .attr("stroke", isDiv ? "none" : blue).attr("stroke-opacity", 0.3).attr("stroke-width", 0.7);
    g.append("text")
      .attr("x", p.legendX + 30).attr("y", ly + 6)
      .attr("fill", inkColor).style("font-size", "17px")
      .text(label);
  });
});

// y label (shared)
svg.append("text")
  .attr("transform", "translate(23,221) rotate(-90)")
  .attr("text-anchor", "middle").attr("fill", inkColor)
  .style("font-size", "17px").style("font-style", "italic")
  .text("v");
</script>
</body>
</html>
